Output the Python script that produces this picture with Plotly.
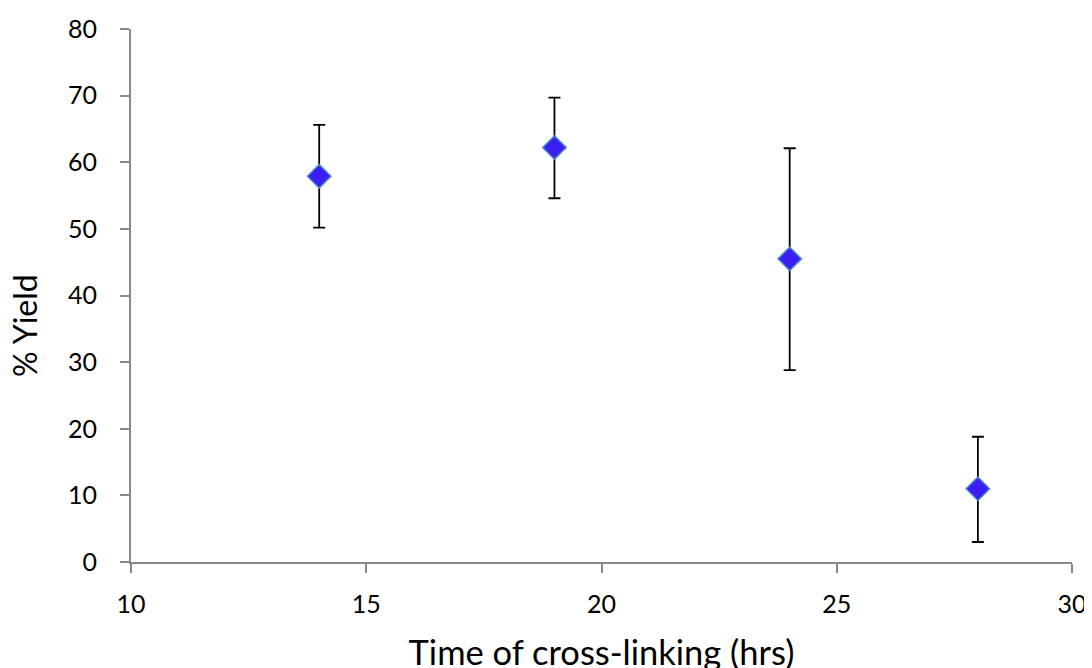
import plotly.graph_objects as go

time_hrs = [14, 19, 24, 28]
yield_pct = [57.9, 62.2, 45.5, 11.0]
err_up = [7.7, 7.5, 16.6, 7.8]
err_down = [7.7, 7.6, 16.7, 8.0]

fig = go.Figure(go.Scatter(
    x=time_hrs, y=yield_pct, mode="markers",
    marker=dict(symbol="diamond", size=18, color="#3A1FF2",
                line=dict(color="#4A86C8", width=1.5)),
    error_y=dict(type="data", symmetric=False, array=err_up, arrayminus=err_down,
                 color="black", thickness=1.8, width=6),
))

axis_common = dict(showline=True, linecolor="#888888", linewidth=2, ticks="outside",
                   ticklen=9, tickcolor="#888888", tickwidth=2, showgrid=False,
                   zeroline=False, automargin=False, tickfont=dict(size=25, color="black"))
fig.update_layout(
    width=1092, height=668, plot_bgcolor="white", paper_bgcolor="white",
    margin=dict(l=123, r=28, t=21, b=114),
    font=dict(family="Lato, Open Sans, sans-serif", color="black"),
    showlegend=False,
    xaxis=dict(range=[10, 30], dtick=5, ticklabelstandoff=10,
               title=dict(text="Time of cross-linking (hrs)", font=dict(size=34.5), standoff=24),
               **axis_common),
    yaxis=dict(range=[0, 80], dtick=10, ticklabelstandoff=18, **axis_common),
    annotations=[dict(text="% Yield", xref="paper", yref="paper", x=-0.1126, y=0.443,
                      xanchor="center", yanchor="middle", textangle=-90, showarrow=False,
                      font=dict(size=32, color="black"))],
)
fig.write_html("out.html")
